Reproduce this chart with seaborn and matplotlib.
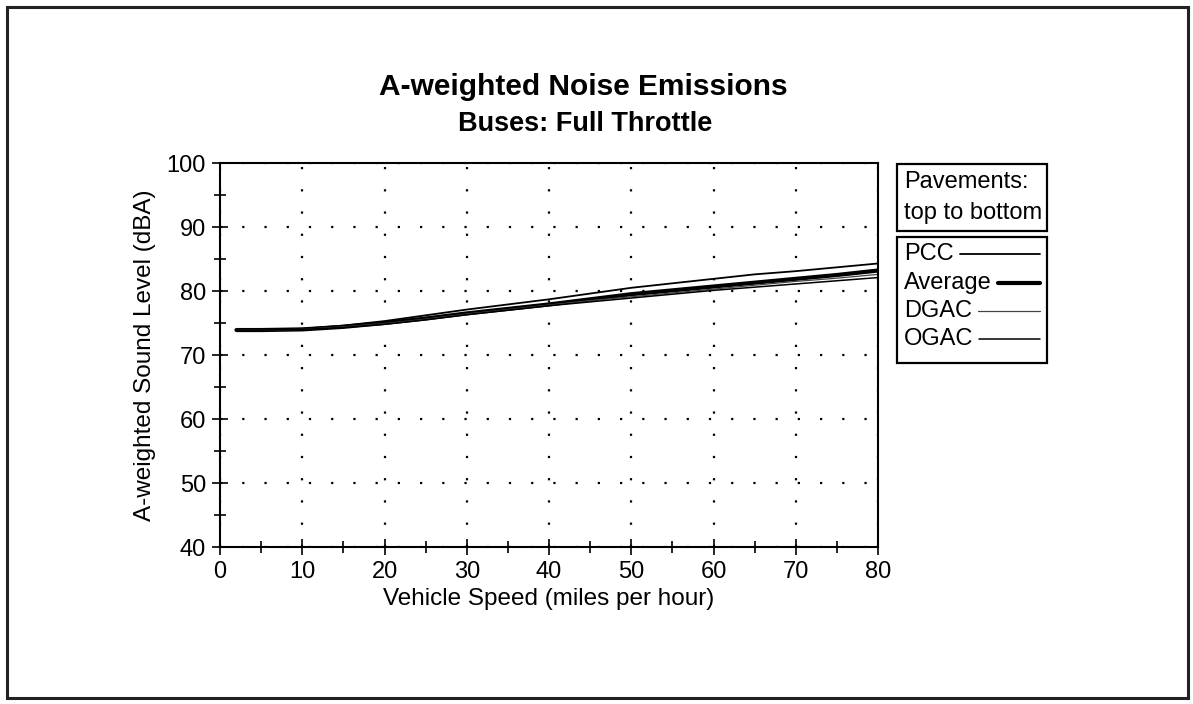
import pandas as pd
import matplotlib
matplotlib.use('Agg')
import matplotlib.pyplot as plt
import seaborn as sns
from matplotlib.patches import Rectangle
from matplotlib.lines import Line2D
from matplotlib.ticker import MultipleLocator

# 속도 (mph)
speed = [2, 5, 10, 15, 20, 25, 30, 35, 40, 45, 50, 55, 60, 65, 70, 75, 80]

# 포장별 소음 레벨 (dBA) - 그림에서 읽은 값
pcc = [73.9, 73.9, 74.1, 74.6, 75.3, 76.2, 77.1, 77.9, 78.7, 79.6, 80.5, 81.2, 81.9, 82.6, 83.1, 83.7, 84.3]
average = [73.9, 73.9, 74.0, 74.4, 75.0, 75.7, 76.5, 77.2, 77.9, 78.7, 79.5, 80.1, 80.7, 81.3, 81.9, 82.5, 83.2]
dgac = [73.9, 73.9, 74.0, 74.4, 74.9, 75.6, 76.4, 77.1, 77.8, 78.5, 79.1, 79.7, 80.3, 80.9, 81.5, 82.0, 82.6]
ogac = [73.9, 73.9, 74.0, 74.3, 74.8, 75.5, 76.3, 77.0, 77.7, 78.3, 78.9, 79.5, 80.1, 80.6, 81.1, 81.6, 82.1]

pavements = ['PCC', 'Average', 'DGAC', 'OGAC']
series = [pcc, average, dgac, ogac]
styles = {'PCC': ('black', 1.3), 'Average': ('black', 3.0),
          'DGAC': ('#444444', 0.9), 'OGAC': ('black', 1.1)}

df = pd.DataFrame({'speed': speed * 4,
                   'level': sum(series, []),
                   'pavement': [p for p in pavements for _ in speed]})

sns.set_style('white')
plt.rcParams['font.family'] = ['Liberation Sans', 'DejaVu Sans']
plt.rcParams['text.color'] = 'black'
plt.rcParams['axes.labelcolor'] = 'black'
plt.rcParams['xtick.color'] = 'black'
plt.rcParams['ytick.color'] = 'black'

W, H = 1193, 704
fig = plt.figure(figsize=(W / 100, H / 100), dpi=100)
ax = fig.add_axes([220 / W, 1 - 547 / H, (878 - 220) / W, (547 - 163) / H])

for p in pavements:
    c, lw = styles[p]
    sns.lineplot(data=df[df['pavement'] == p], x='speed', y='level',
                 color=c, linewidth=lw, ax=ax)

ax.set_xlim(0, 80)
ax.set_ylim(40, 100)
ax.xaxis.set_major_locator(MultipleLocator(10))
ax.xaxis.set_minor_locator(MultipleLocator(5))
ax.yaxis.set_major_locator(MultipleLocator(10))
ax.yaxis.set_minor_locator(MultipleLocator(5))
ax.tick_params(which='both', bottom=True, left=True, top=False, right=False)
ax.tick_params(which='major', direction='inout', length=12, width=1.2,
               labelsize=17, color='black', pad=4)
ax.tick_params(which='minor', direction='inout', length=8, width=1.2, color='black')
ax.grid(True, which='major', color='black', linestyle=(0, (1, 9)), linewidth=1.6)
for s in ax.spines.values():
    s.set_visible(True)
    s.set_color('black')
    s.set_linewidth(1.5)

ax.set_xlabel('Vehicle Speed (miles per hour)', fontsize=17.5, labelpad=4)
ax.set_ylabel('A-weighted Sound Level (dBA)', fontsize=17.5, labelpad=8)

# 제목
fig.text(583 / W, 1 - 87 / H, 'A-weighted Noise Emissions', ha='center', va='center',
         fontsize=21.5, fontweight='bold')
fig.text(585 / W, 1 - 124 / H, 'Buses: Full Throttle', ha='center', va='center',
         fontsize=19.5, fontweight='bold')

# 범례 상자 1
fig.add_artist(Rectangle((897 / W, 1 - 231 / H), 150 / W, 67 / H, transform=fig.transFigure,
                         fill=False, edgecolor='black', linewidth=1.6))
fig.text(904 / W, 1 - 182 / H, 'Pavements:', ha='left', va='center', fontsize=17)
fig.text(904 / W, 1 - 213 / H, 'top to bottom', ha='left', va='center', fontsize=17)

# 범례 상자 2
fig.add_artist(Rectangle((897 / W, 1 - 363 / H), 150 / W, 126 / H, transform=fig.transFigure,
                         fill=False, edgecolor='black', linewidth=1.6))
fig.canvas.draw()
renderer = fig.canvas.get_renderer()
for i, p in enumerate(pavements):
    yc = 1 - (254 + i * 28.5) / H
    t = fig.text(904 / W, yc, p, ha='left', va='center', fontsize=17)
    ext = t.get_window_extent(renderer)
    c, lw = styles[p]
    fig.add_artist(Line2D([(ext.x1 + 6) / W, 1040 / W], [yc, yc], transform=fig.transFigure,
                          color=c, linewidth=lw))

# 페이지 테두리
fig.add_artist(Rectangle((7 / W, 1 - 698 / H), 1181 / W, 691 / H, transform=fig.transFigure,
                         fill=False, edgecolor='#222222', linewidth=2.2))

fig.savefig('out.png', dpi=100)
